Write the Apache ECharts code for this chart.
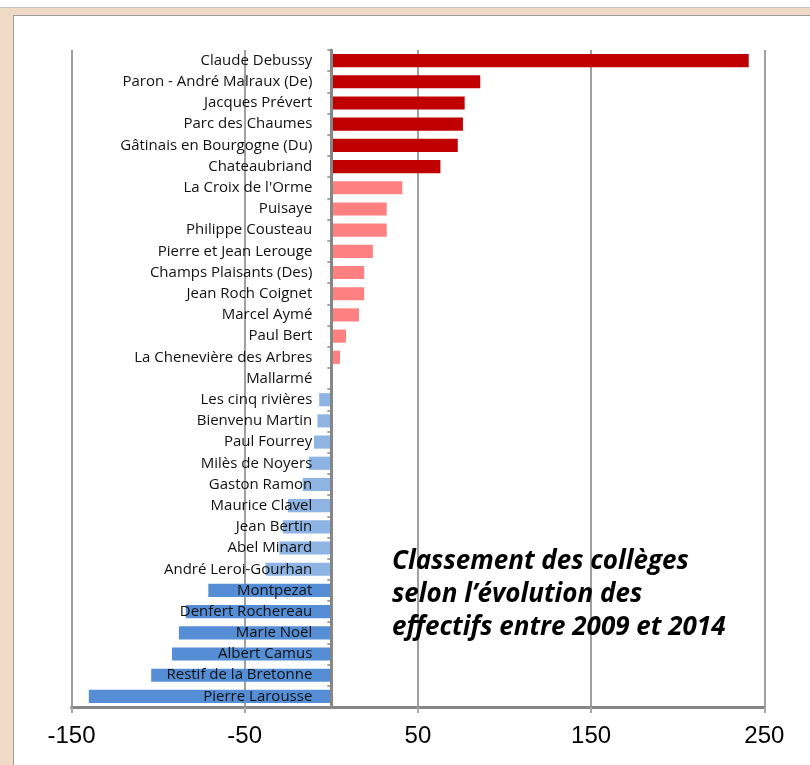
<!DOCTYPE html>
<html>
<head>
<meta charset="utf-8">
<script src="https://cdn.jsdelivr.net/npm/echarts@6/dist/echarts.min.js"></script>
<style>
html,body{margin:0;padding:0;background:#fff;}
#wrap{position:relative;width:810px;height:765px;overflow:hidden;background:#fff;}
#frameTop{position:absolute;left:0;top:7px;width:810px;height:1px;background:#c4c4c4;}
#frame{position:absolute;left:0;top:8px;width:810px;height:757px;background:#efdac6;}
#inner{position:absolute;left:13px;top:15px;width:797px;height:750px;background:#fff;border-left:1px solid #9a9a9a;border-top:1px solid #9a9a9a;box-sizing:border-box;}
#chart{position:absolute;left:0;top:0;width:810px;height:765px;}
</style>
</head>
<body>
<div id="wrap">
<div id="frameTop"></div>
<div id="frame"></div>
<div id="inner"></div>
<div id="chart"></div>
</div>
<script>
const categories = [
  "Claude Debussy","Paron - André Malraux (De)","Jacques Prévert","Parc des Chaumes",
  "Gâtinais en Bourgogne (Du)","Chateaubriand","La Croix de l'Orme","Puisaye",
  "Philippe Cousteau","Pierre et Jean Lerouge","Champs Plaisants (Des)","Jean Roch Coignet",
  "Marcel Aymé","Paul Bert","La Chenevière des Arbres","Mallarmé","Les cinq rivières",
  "Bienvenu Martin","Paul Fourrey","Milès de Noyers","Gaston Ramon","Maurice Clavel",
  "Jean Bertin","Abel Minard","André Leroi-Gourhan","Montpezat","Denfert Rochereau",
  "Marie Noël","Albert Camus","Restif de la Bretonne","Pierre Larousse"
];
const values = [
  241, 86, 77, 76, 73, 63, 41, 32, 32, 24, 19, 19, 16, 8.5, 5, 0, -7,
  -8, -10, -13, -16.5, -25, -28, -30, -38, -71, -84, -88, -92, -104, -140
];
// colour group for each bar: 0 dark red, 1 pink, 2 light blue, 3 blue
const groups = [
  0,0,0,0,0,0,1,1,1,1,1,1,1,1,1,1,2,2,2,2,2,2,2,2,2,3,3,3,3,3,3
];
const groupColors = ["#c00000", "#ff8080", "#8eb4e3", "#558ed5"];
const xTicks = [-150, -50, 50, 150, 250];
const xMin = -150, xMax = 250;
const titleLines = ["Classement des collèges", "selon l’évolution des", "effectifs entre 2009 et 2014"];

const gridLeft = 71.5, gridRight = 45.7;
const plotW = 810 - gridLeft - gridRight;
const zeroOffset = plotW * (0 - xMin) / (xMax - xMin);

const chart = echarts.init(document.getElementById('chart'), null, {renderer: 'canvas'});
const data = values.map((v, i) => ({value: v, itemStyle: {color: groupColors[groups[i]]}}));

chart.setOption({
  backgroundColor: 'transparent',
  animation: false,
  grid: {left: gridLeft, right: gridRight, top: 50, bottom: 58, containLabel: false, outerBoundsMode: 'none'},
  xAxis: {
    type: 'value', min: xMin, max: xMax,
    axisLine: {show: true, onZero: false, lineStyle: {color: '#868686', width: 3}},
    axisTick: {show: true, customValues: xTicks, length: 6, lineStyle: {color: '#a6a6a6', width: 2}},
    axisLabel: {customValues: xTicks, color: '#000', fontSize: 24, fontFamily: 'Liberation Sans', margin: 17},
    splitLine: {show: true, lineStyle: {color: '#a0a0a0', width: 2}}
  },
  yAxis: {
    type: 'category', inverse: true, data: categories, z: 10,
    offset: -zeroOffset,
    axisLine: {show: true, onZero: false, lineStyle: {color: '#868686', width: 3}},
    axisTick: {show: true, length: 4, lineStyle: {color: '#868686', width: 1.5}},
    axisLabel: {color: '#111', fontSize: 15, fontFamily: 'Open Sans', margin: 19, interval: 0},
    splitLine: {show: false}
  },
  series: [{
    type: 'bar', data: data, barCategoryGap: '38%',
    itemStyle: {borderWidth: 0}
  }],
  graphic: titleLines.map((t, i) => ({
    type: 'text', left: 392, top: 549 + i * 33, z: 20,
    style: {text: t, fill: '#000', font: 'italic bold 26px "Open Sans"'}
  }))
});
</script>
</body>
</html>
